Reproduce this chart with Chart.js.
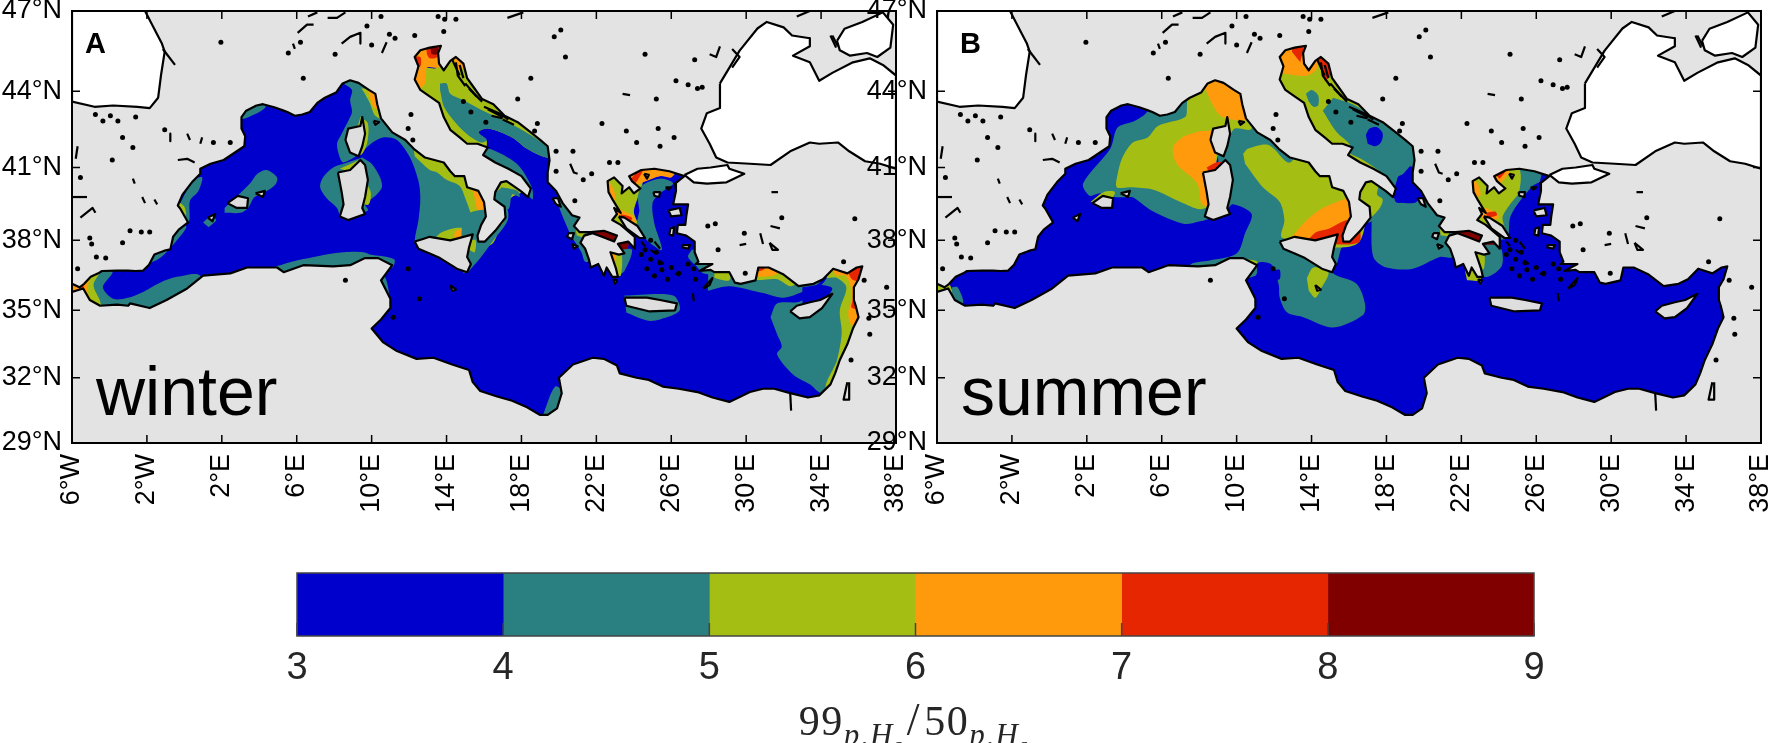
<!DOCTYPE html>
<html>
<head>
<meta charset="utf-8">
<title>99p/50p Hs</title>
<script src="https://cdn.jsdelivr.net/npm/chart.js@4"></script>
<style>
  html, body { margin: 0; background: #fff; overflow: hidden; }
  canvas { position: absolute; }
  #cbarLabel { position: absolute; left: 0; width: 1828px; top: 698px; text-align: center;
    font: 42px "Liberation Serif", serif; color: #262626; line-height: 44px; letter-spacing: 1.5px; }
  #cbarLabel sub { font-size: 31px; font-style: italic; vertical-align: -10px; line-height: 0; }
  #cbarLabel sub sub { font-size: 22px; vertical-align: -7px; }
  #cbarLabel i { font-style: normal; font-size: 46px; padding: 0 3px; }
</style>
</head>
<body>
<canvas id="winterMap" width="907" height="530" style="left:0;top:0"></canvas>
<canvas id="summerMap" width="907" height="530" style="left:865px;top:0"></canvas>
<canvas id="colorbar" width="1772" height="170" style="left:0;top:540px"></canvas>
<div id="cbarLabel">99<sub>p,H<sub>s</sub></sub><i>/</i>50<sub>p,H<sub>s</sub></sub></div>
<script>
// axis ticks and colour bins
const lonTicks = [-6, -2, 2, 6, 10, 14, 18, 22, 26, 30, 34, 38];
const lonLabels = ['6°W', '2°W', '2°E', '6°E', '10°E', '14°E', '18°E', '22°E', '26°E', '30°E', '34°E', '38°E'];
const latTicks = [29, 32, 35, 38, 41, 44, 47];
const latLabels = ['29°N', '32°N', '35°N', '38°N', '41°N', '44°N', '47°N'];
const binEdges = [3, 4, 5, 6, 7, 8, 9];
const binColors = { 3: '#0000CD', 4: '#2A7F80', 5: '#A5BE14', 6: '#FF9A0D', 7: '#E52600', 8: '#800000' };

// Mediterranean coast as [lon, lat], clockwise from Gibraltar
const medCoast = [[-6,36.15],[-5.6,36],[-5.35,36.15],[-5,36.45],[-4.6,36.6],[-4.4,36.7],[-3.6,36.72],[-3,36.72],[-2.6,36.7],[-2.2,36.72],[-1.9,36.95],[-1.6,37.4],[-1,37.58],[-0.75,37.62],[-0.6,38.15],[-0.3,38.45],[0.2,38.75],[-0.2,39.3],[-0.35,39.45],[-0.1,39.9],[0.4,40.4],[0.85,40.75],[0.85,40.95],[1.4,41.15],[2.1,41.3],[2.8,41.65],[3.2,41.85],[3.25,42.25],[3.05,42.55],[3.05,43],[3.3,43.25],[3.85,43.45],[4.2,43.5],[4.8,43.38],[5.3,43.25],[5.5,43.2],[5.9,43.05],[6.3,43.1],[6.7,43.2],[7.1,43.55],[7.5,43.75],[8.1,43.95],[8.45,44.3],[8.85,44.42],[9.3,44.32],[9.85,44.05],[10.2,43.9],[10.3,43.5],[10.5,42.95],[11.1,42.4],[11.8,42.1],[12.25,41.75],[12.85,41.4],[13.6,41.25],[13.85,41.2],[14.2,40.85],[14.45,40.65],[14.95,40.65],[15.1,40.2],[15.7,40.05],[16,39.6],[16.1,39],[15.85,38.65],[15.65,38.2],[15.7,37.95],[16.05,37.95],[16.6,38.4],[17.15,38.95],[17.1,39.4],[16.55,39.7],[16.6,40],[16.9,40.4],[17.2,40.45],[17.95,40.05],[18.35,39.8],[18.5,40.15],[18,40.65],[17.3,40.95],[16.6,41.2],[15.95,41.5],[16.2,41.8],[15.65,41.95],[15.1,41.95],[14.7,42.2],[14.2,42.5],[13.85,43],[13.6,43.55],[13,43.85],[12.6,44.05],[12.3,44.45],[12.5,44.95],[12.3,45.3],[12.6,45.55],[13.1,45.65],[13.7,45.72],[13.55,45.45],[13.6,45.05],[13.85,44.8],[14.2,45.15],[14.5,45.3],[14.9,45.05],[15.1,44.5],[15.4,44.2],[15.9,43.7],[16.5,43.5],[17.1,43.05],[17.8,42.8],[18.5,42.4],[19,42.1],[19.4,41.85],[19.5,41.3],[19.4,40.8],[19.4,40.4],[19.85,40.05],[20.2,39.55],[20.7,39.05],[21.1,38.95],[20.8,38.6],[21.1,38.35],[21.7,38.35],[22.4,38.4],[23.1,38.2],[22.95,37.95],[22.3,38.15],[21.8,38.3],[21.35,38.2],[21.15,37.9],[21.4,37.65],[21.6,37.2],[21.7,36.85],[22.1,37],[22.4,36.5],[22.55,36.85],[22.85,36.45],[23.15,36.45],[23.05,36.8],[22.75,37.5],[23.2,37.4],[23.5,37.45],[23.15,37.85],[23.7,37.95],[24.05,37.65],[24.05,38.15],[23.3,38.65],[22.85,38.85],[23.1,39.1],[22.95,39.35],[23.3,39.15],[22.9,39.65],[22.65,40],[22.6,40.45],[22.95,40.6],[23.4,40.25],[23.35,39.95],[23.75,40.2],[24,39.95],[24.35,40.15],[23.9,40.45],[23.75,40.65],[24.4,40.9],[25.1,40.95],[25.9,40.85],[26.7,40.65],[26.2,40.35],[26.25,40.05],[26.1,39.5],[26.9,39.5],[26.8,39],[26.75,38.65],[26.35,38.65],[26.3,38.3],[26.8,38.2],[27.25,37.95],[27.25,37.5],[27.45,37.1],[27.3,37],[28.2,37],[27.5,36.7],[28.1,36.75],[28.3,36.65],[29.1,36.65],[29.4,36.2],[29.7,36.15],[30.5,36.3],[30.65,36.85],[31.2,36.85],[32,36.55],[32.8,36.05],[33.6,36.15],[34.1,36.35],[34.65,36.8],[35.4,36.6],[35.9,36.85],[36.2,36.9],[36,36.35],[35.75,36],[35.75,35.45],[35.85,35.2],[36,34.7],[35.7,34.2],[35.4,33.5],[35,32.8],[34.75,32.2],[34.5,31.7],[33.9,31.2],[33.3,31.1],[32.35,31.3],[31.5,31.5],[30.9,31.5],[30.2,31.35],[29.1,30.9],[28.2,31.1],[27.4,31.35],[26.4,31.5],[25.55,31.6],[24.8,31.9],[24.15,32],[23.25,32.2],[23.1,32.55],[22.4,32.85],[21.8,32.9],[20.75,32.6],[20,32],[20.15,31.3],[19.9,30.6],[19.4,30.3],[19,30.3],[18.3,30.65],[17.5,30.95],[16.7,31.15],[15.8,31.4],[15.4,31.8],[15.2,32.35],[14.3,32.6],[13.3,32.9],[12.4,32.85],[11.35,33.2],[10.6,33.6],[10,34.2],[10.5,34.6],[11,35.1],[11,35.5],[10.5,36.3],[11.1,36.95],[10.35,37.25],[9.65,37.25],[8.85,36.95],[7.95,36.9],[6.35,36.95],[5.3,36.65],[4.95,36.85],[3.35,36.85],[2.45,36.6],[1,36.5],[0.15,35.95],[-0.95,35.45],[-1.85,35.1],[-2.9,35.3],[-3,35.2],[-3.6,35.25],[-4.5,35.2],[-5.05,35.45],[-5.4,35.95],[-6,35.8]];
const mapCorners = [[-6,29],[38,29],[38,47],[-6,47]];

// basins outside the model domain
const atlantic = [[-6,47],[-2.1,47],[-1.5,46.2],[-1.2,45.8],[-1.05,45.5],[-1.25,44.6],[-1.4,43.75],[-1.85,43.35],[-2.5,43.4],[-3.8,43.45],[-4.8,43.4],[-6,43.6]];
const blackSea = [[28.6,44.3],[29.65,45.54],[30.6,46.36],[31.1,46.6],[32,46.4],[32.45,46.1],[33.4,46],[33.4,45.7],[32.5,45.35],[33.4,45.1],[33.9,44.4],[34.6,44.7],[35.7,45.1],[36.6,45.25],[37.3,45],[38,44.6],[38,40.95],[37.15,41.15],[36.35,41.25],[35.5,41.65],[34.9,42],[33.9,41.95],[33.4,42],[32.35,41.65],[31.3,41.1],[30.2,41.15],[29,41.2],[28.4,41.4],[28.05,41.95],[27.6,42.55],[27.9,43.15],[28.6,43.35]];
const azovSea = [[34.85,45.9],[35.25,46.35],[36.2,46.6],[37.3,46.95],[37.85,46.5],[37.7,45.65],[37,45.3],[36.45,45.45],[35.55,45.35],[35,45.55]];
const marmara = [[26.7,40.7],[27.4,40.95],[28.1,41],[29.0,41.1],[29.1,40.95],[29.9,40.75],[28.95,40.4],[27.9,40.35],[27.2,40.4]];

// islands
const islands = [
  [[8.6,42.1],[8.75,42.55],[9.4,42.65],[9.5,43],[9.65,42.35],[9.5,41.85],[9.3,41.45],[8.85,41.6]],
  [[8.2,40.8],[8.85,40.9],[9.4,41.3],[9.65,41.1],[9.8,40.5],[9.65,39.8],[9.5,39.35],[9.65,39.1],[8.75,38.85],[8.3,39],[8.5,39.5],[8.4,40]],
  [[12.3,37.95],[12.7,38.05],[13.1,38.15],[14.2,38],[15.4,38.25],[15.2,37.7],[15.1,37.3],[15.3,37],[15.1,36.65],[14.55,36.8],[13.65,37.25],[13.1,37.45],[12.5,37.65]],
  [[2.3,39.55],[2.85,39.85],[3.4,39.75],[3.35,39.35],[2.8,39.35]],
  [[3.8,39.95],[4.3,40.05],[4.2,39.8]],
  [[1.25,38.95],[1.65,39.1],[1.5,38.8]],
  [[23.5,35.55],[24.7,35.55],[25.4,35.45],[26.3,35.3],[26.2,35],[24.85,34.95],[23.6,35.2]],
  [[32.35,34.95],[32.7,35.2],[33.4,35.35],[33.95,35.45],[34.6,35.72],[34.05,35.1],[33.4,34.7],[32.85,34.65]],
  [[25.85,39.25],[26.45,39.35],[26.55,39.05],[26,39]],
  [[25.95,38.5],[26.15,38.55],[26.1,38.2],[25.9,38.25]],
  [[25.05,40],[25.4,40],[25.35,39.8],[25.1,39.85]],
  [[24.55,40.75],[24.8,40.7],[24.7,40.55]],
  [[25.7,40.2],[26,40.2],[25.85,40.1]],
  [[26.6,37.8],[27,37.8],[26.9,37.65],[26.6,37.7]],
  [[23.2,39],[23.5,38.95],[24.2,38.6],[24.6,38.1],[24.3,38.1],[23.6,38.5]],
  [[27.7,35.95],[28.2,36.4],[28.05,36.1]],
  [[20.5,38.3],[20.8,38.3],[20.7,38.05],[20.45,38.15]],
  [[20.7,37.85],[21,37.75],[20.8,37.65]],
  [[19.65,39.75],[19.95,39.75],[20.1,39.4],[19.85,39.5]],
  [[22.9,36.35],[23.1,36.3],[23,36.15]],
  [[10.1,42.85],[10.4,42.8],[10.2,42.7]],
  [[14.2,36.1],[14.5,35.9],[14.3,35.85]]
];

// small inland lakes and islets
const coastBits = [
  [[-1.15,45.6],[-0.5,45]],[[6.05,46.2],[6.55,46.5],[6.9,46.5]],[[6.6,46.8],[7.1,46.95]],[[7.65,46.75],[8.15,46.75],[8.6,46.95]],
  [[8.4,45.8],[8.85,46.05],[9.4,46.2],[9.4,45.8]],[[10.55,45.45],[10.8,45.85]],[[5.8,45.8],[5.9,45.6]],[[0.15,42.35],[0.3,42.1]],
  [[0.95,42.2],[0.85,41.95]],[[-0.35,41.3],[0.15,41.35],[0.55,41.2]],[[-0.75,42.35],[-0.75,42.05]],[[-2.75,40.55],[-2.65,40.35]],
  [[-5.95,39.8],[-5.2,39.8]],[[-5.8,41.35],[-5.7,41.85]],[[-2.25,39.8],[-2.1,39.55]],[[-1.6,39.7],[-1.45,39.5]],
  [[-5.55,38.95],[-4.9,39.35],[-4.75,39.15]],[[17.25,46.75],[18.1,46.95]],[[23.4,43.9],[23.8,43.85]],[[20.6,41.15],[20.8,40.8],[21,40.75]],
  [[31.35,40],[31.7,40]],[[28.05,45.4],[28.4,45.3],[28.6,45.7]],[[29.25,45.6],[29.65,45.3],[29.25,44.9]],[[29.65,37.8],[30,37.85]],
  [[31.25,37.9],[31.7,37.6],[31.4,37.6],[31.25,37.9]],[[30.75,38.3],[30.9,37.85]],[[31.3,38.6],[31.8,38.5]],[[35.4,31.8],[35.2,31],[35.5,31],[35.5,31.8]],
  [[32.35,31.3],[32.4,30.5]],[[32.7,46.8],[33.4,47]],[[34.5,46.1],[34.8,45.65]],[[34.6,46.1],[34.9,45.7]],
  [[14.5,45.1],[14.6,44.6],[15,44.2]],[[15,44.3],[15.6,43.8]],[[16,43.4],[16.8,43.15],[17.3,42.9]],[[16.4,43.05],[17,42.95]],
  [[14.3,45.2],[14.7,44.6]],[[27.15,35.75],[27.2,35.4]],[[25.1,37.95],[25.4,37.65]],[[24.4,37.95],[24.6,37.75]],
  [[14.7,45],[14.9,44.5]],[[15.2,44.1],[15.9,43.6]],[[16.2,43.3],[17,43]],[[17,42.9],[17.6,42.7]],
  [[24.9,37.6],[25.15,37.45]],[[25.3,37.15],[25.6,37]],[[26.2,36.6],[26.45,36.5]]
];
const islets = [[1.95,45.85],[-3.3,42.2],[-2.75,41.8],[-3.85,41.3],[-4.75,43.1],[-4.35,42.85],[-3.55,42.85],[-2.6,43],[-3.95,43.05],[-5.55,40.6],[-1.05,42.5],[1.55,42],[2.45,42],[8.05,45.4],[6.35,44.5],[12.1,43.1],[11.95,42.55],[12.2,42.1],[12.3,46.1],[11.25,46],[10.95,46.15],[10,45.75],[9.75,46.45],[10.5,46.8],[5.55,45.45],[6.2,45.85],[13.85,46.25],[13.9,46.7],[13.55,46.8],[14.5,46.7],[20.1,46.3],[19.75,46.05],[20.35,45.3],[18.5,44.5],[17.8,43.7],[18.85,42.75],[18.7,42.45],[22.3,42.75],[23.6,42.45],[24.15,42],[25.4,41.85],[26.15,42.2],[25.3,42.55],[25.2,43.7],[26.25,44.4],[26.9,44.25],[27.4,44.1],[27.65,44.15],[24.6,45.4],[27.25,45.2],[19.85,41.65],[20.75,41.65],[22.7,41.2],[23.15,41.2],[19.85,40.85],[21.3,40.5],[21.75,40.75],[20.85,39.65],[27.95,38.6],[28.35,38.7],[29.9,38.3],[31.9,38.95],[28.5,37.6],[29.95,36.6],[35.8,38.9],[35.2,37.1],[36.3,36.3],[37.5,36],[36.55,34.65],[36.6,33.95],[35.6,32.8],[-5.7,36.8],[-2.9,38.4],[-2.3,38.35],[-1.85,38.35],[-5.05,38.1],[-4.95,37.85],[-3.3,37.9],[-4.7,37.3],[-4.2,37.25],[8.6,36.3],[11.15,34.7],[11.95,36.8],[12.55,35.5],[24.6,37.6],[24.9,37.2],[24.7,36.8],[25.2,37.5],[25.4,37.05],[25.5,36.75],[26,36.85],[26.4,36.6],[26.9,37],[24.4,37.4],[25.1,36.5],[25.8,36.35],[27.2,36.8],[27.3,36.35],[24.9,38],[14.9,43.6],[15.3,43.2],[16.1,42.8]];

// winter ratio areas as [lower bin edge, polygon], painted in this order
const winterAreas = [
  [4, [[-6,37],[-3.85,36.85],[-3.85,36.6],[-4.35,36],[-3.8,35.5],[-3,35.55],[-2.2,35.8],[-1.3,36.2],[-0.4,36.45],[0.85,36.5],[0.85,35],[-6,35]]],
  [5, [[-6,37],[-4.4,36.9],[-4.85,36.1],[-4.5,35.4],[-4.5,35],[-6,35]]],
  [6, [[-6,37],[-4.9,37],[-5.2,35.85],[-4.9,35.2],[-6,35]]],
  [7, [[-5.1,37],[-5.4,35.85],[-5.15,35.2],[-5.5,35],[-5.5,37]]],
  [4, [[-2.3,36.9],[-1.3,37.25],[-0.4,38],[0.1,38.6],[-1,38.6],[-2.3,37.5]]],
  [4, [[2.15,39.35],[3.5,40.35],[3.9,40.75],[4.4,40.9],[4.95,40.6],[4.85,40.3],[4.3,40],[3.75,39.8],[3.4,39.35],[3,39.15],[2.15,39.15]]],
  [4, [[1,38.75],[1.4,39],[1.7,38.85],[1.3,38.55]]],
  [4, [[-0.35,39.35],[0.45,40.45],[0.95,40.6],[0.75,40.05],[0.3,39.65],[0.2,38.75],[-1,39]]],
  [5, [[-0.5,39.7],[0,39.4],[0.05,39],[-0.5,39]]],
  [4, [[3,42.9],[3.45,43],[4.3,43.35],[4.3,43.7],[3,43.7]]],
  [4, [[8.4,44.6],[11,44.6],[11.5,43.5],[13,42.5],[14.5,41.5],[16.5,40.5],[16.5,38],[15.7,37.8],[12.4,37.8],[12.3,38],[12.5,38.85],[12.6,39.75],[12.5,40.45],[12.05,41.4],[11.35,42.1],[10.6,42.2],[10.05,42],[9.25,41.5],[8.5,41.2],[8.3,41.4],[8.15,41.95],[8.4,42.35],[8.75,42.85],[8.95,43.2],[8.85,43.65],[8.95,44.05],[8.5,44.3]]],
  [4, [[8.5,41.15],[7.95,41],[7.4,40.6],[7.25,40.2],[7.6,39.75],[8.15,39.35],[8.4,38.95],[9.8,39.25],[9.65,39.5],[10.2,39.85],[10.55,40.2],[10.45,40.6],[10,41.15],[9.5,41.4]]],
  [5, [[9.45,44.1],[9.8,44.1],[10.8,44.2],[10.8,42.9],[10.2,43.05],[9.9,43.55],[9.6,43.95]]],
  [6, [[9.8,44.3],[9.85,43.9],[10.15,43.35],[10.8,43.35],[10.8,44.3]]],
  [5, [[9.4,43],[9.8,42.75],[9.75,41.95],[9.4,41.5],[9,42]]],
  [5, [[8.3,40.95],[8.9,41.15],[9.4,41.3],[9,40.8]]],
  [5, [[9.6,40.5],[9.95,40],[9.85,39.5],[9.5,39.5]]],
  [5, [[12.3,41.45],[13.1,40.9],[13.5,40.8],[14,40.5],[14.7,40.25],[15,39.75],[15.35,38.95],[15.35,38.6],[14.35,38.5],[13.65,38.3],[13.4,38],[16.5,37.9],[16.5,41],[13,42],[12.2,42]]],
  [6, [[15.2,40.3],[15.45,39.9],[15.65,39],[15.55,38.55],[14.5,38.4],[14.5,38],[16.5,38],[16.5,40.3]]],
  [5, [[12,44.3],[13.3,42],[15.9,41.5],[16.15,42.05],[15.7,42.4],[16.2,42.55],[17.5,42.2],[18.3,41.75],[19.4,41.4],[19.6,41.8],[19,43],[15,45.5],[13.8,45.6],[13.5,44.9],[12.9,44.9],[12,45]]],
  [6, [[12,46],[14,46],[14,45.2],[13.55,44.9],[12.95,44.9],[12.85,44.3],[12.5,44.1],[12,44.1]]],
  [7, [[12.9,45.8],[13.8,45.8],[13.5,45.3],[13.1,45.25],[12.95,45.4]]],
  [8, [[13.1,45.75],[13.5,45.75],[13.5,45.4],[13.2,45.4]]],
  [7, [[12.2,45.3],[12.6,45.3],[12.6,44.95],[12.2,44.95]]],
  [6, [[14.3,45.35],[14.7,45.35],[14.9,44.9],[14.6,44.8]]],
  [4, [[13.65,44.3],[14,44.3],[14.2,43.9],[14.9,43.65],[15.95,43.25],[17.25,42.8],[17.9,42.55],[19.4,41.8],[19.4,41.4],[18.3,41.75],[17.5,42.2],[16.2,42.55],[15.7,42.4],[16.15,42.1],[15.8,42],[14.9,42.45],[13.9,43.35],[13.65,44.05]]],
  [4, [[15.95,41.65],[16.3,41.75],[17.75,41.15],[18.55,40.2],[18.6,39.7],[18.4,39.85],[18.1,40.4],[17,41],[15.9,41.4]]],
  [5, [[16.3,40.6],[17.4,40.6],[18.2,40.1],[17.5,39.8],[17,39.4],[16.4,39.5]]],
  [4, [[16.95,40.2],[17.8,40.05],[17.9,39.8],[17.5,39.9],[17.3,39.3],[16.5,39.3],[16.5,39.9]]],
  [4, [[15.15,36.65],[15.8,37.25],[16.6,38.1],[17.1,38.6],[17.3,38.95],[17.2,39.3],[15,39],[14.9,36.6]]],
  [5, [[15.2,37.6],[15.5,37.5],[15.55,38],[15.2,38]]],
  [5, [[16.2,38.3],[17,38.7],[17.1,39.1],[16.3,38.9]]],
  [4, [[9.9,37.4],[11.2,37.2],[11.1,36.85],[10,36.7]]],
  [4, [[10.45,36.4],[10.7,36.45],[10.9,35.9],[10.9,35.5],[10,35.5],[10,36.4]]],
  [4, [[4.9,36.9],[6,37.15],[8.5,37.5],[9.9,37.4],[10,36.5],[4.9,36.5]]],
  [4, [[19.15,30.3],[19.8,31.6],[20.3,31.3],[20.3,30.3]]],
  [4, [[23.5,35.65],[26.1,35.65],[26.45,35],[25.4,34.6],[24.7,34.55],[23.6,34.9]]],
  [4, [[19.9,39.8],[20,39.4],[20.65,38.2],[21.2,37.5],[21.4,37.1],[21.8,37.2],[21.6,38.2],[21,39],[20.4,39.8]]],
  [5, [[20.85,38.7],[21.4,38.7],[21.3,38.15],[20.95,38.2]]],
  [8, [[21.7,38.6],[23.2,38.6],[23.2,37.9],[21.7,38.1]]],
  [8, [[23,37.9],[23.7,37.95],[23.6,37.55],[23.1,37.5]]],
  [4, [[23.2,37.6],[23.9,37.6],[23.5,36.7],[23.1,36.5]]],
  [5, [[22.7,37.6],[23.3,37.6],[23.3,36.5],[22.9,36.6]]],
  [6, [[22.7,37.6],[23,37.6],[23,36.9],[22.8,36.9]]],
  [5, [[22.4,40.9],[24.5,40.9],[24.45,40.3],[24.2,39.75],[24,39.2],[24.2,38.6],[23.5,38.5],[22.4,39]]],
  [4, [[24.2,39.75],[24.4,40.25],[25.4,40.55],[26.1,40.35],[25.4,39.95],[25,39.55],[25.1,38.7],[25.5,37.6],[24.85,37.9],[24.4,38.3],[24.15,38.55],[24.3,39.25]]],
  [6, [[23.7,40.55],[24.3,41],[26.3,41],[26,40.6],[25.4,40.65],[24.5,40.4],[24,40.2]]],
  [7, [[23.85,40.55],[24.3,40.9],[24.5,40.9],[24.05,40.3]]],
  [6, [[22.4,40.6],[22.75,40.35],[23,39.9],[22.9,39.55],[22.4,39.9]]],
  [6, [[23,39.4],[23.5,39.2],[24,39],[24.1,38.6],[23.7,38.75],[23.2,39]]],
  [7, [[23.3,39.1],[23.9,38.95],[23.8,38.8],[23.35,38.95]]],
  [4, [[27.95,35.85],[29.1,36.05],[30.9,35.75],[32,35.55],[33.4,35.95],[34,36.3],[34,37.3],[28,37.3]]],
  [4, [[27.1,37.6],[26.9,37.3],[27.35,36.9],[27.7,36.6],[28.5,36.6],[28.5,37.7]]],
  [5, [[28.3,36.4],[29.1,36.3],[29.1,36.9],[28.3,36.9]]],
  [5, [[30.4,36.9],[30.4,36.35],[31.65,36.35],[32.4,36.05],[33,36.5],[31,37.2]]],
  [6, [[30.4,37],[30.5,36.5],[31.6,36.55],[32,37]]],
  [7, [[30.4,37],[30.6,36.7],[31,36.8],[31,37]]],
  [4, [[31.3,34.7],[31.65,35.3],[32.9,35.4],[34.3,36.4],[34.3,37.5],[37,37.5],[37,31],[34,31.3],[33.4,31.7],[32.5,32.15],[31.65,33.05],[31.9,33.4],[31.65,33.95]]],
  [3, [[33,36],[33.95,36.1],[34.6,35.95],[33.95,35.35],[33,35.3]]],
  [5, [[34.3,36.4],[34.85,36.4],[35.35,36],[35,35],[35.1,34],[34.85,32.8],[34.3,31.5],[37,31.5],[37,37.5],[34.3,37.5]]],
  [6, [[34.5,37.5],[34.75,36.55],[35.3,36.5],[35.55,36.1],[35.65,35.55],[35.45,34.9],[35.65,34.35],[37,34.35],[37,37.5]]],
  [7, [[35.4,37.5],[35.45,36.65],[35.75,36.3],[37,36.3],[37,37.5]]],
  [7, [[35.75,35.6],[35.65,35.1],[37,35.1],[37,35.6]]]
];

// summer ratio areas, same layout
const summerAreas = [
  [5, [[-6,36.2],[-5.4,36.2],[-5.2,35.7],[-6,35.7]]],
  [4, [[-5.2,36],[-4.9,36],[-4.6,35.3],[-5.2,35.3]]],
  [4, [[5.25,44],[5.25,43.25],[4.55,42.85],[3.65,42.6],[3.25,41.75],[1.8,40.35],[2.15,39.85],[2.7,39.95],[3.5,39.8],[4.4,39.8],[4.55,39.75],[5.55,39.2],[7.15,38.7],[8.05,38.8],[8.6,39],[8.5,41.2],[8.5,44.6]]],
  [4, [[9.5,39.3],[9.8,39.5],[10.8,39.1],[10.45,38.3],[10,37.45],[8.55,37.15],[7.5,36.95],[7.5,36],[11,36.5],[11.15,37.05],[11.9,36.95],[12.25,36.1],[12.3,35.55],[12.7,34.9],[13.55,34.7],[15.15,34.25],[16.75,34.8],[16.85,35.3],[16.4,36.15],[15.15,36.6],[15.35,37],[15.7,37.85],[16.75,38.7],[17.2,38.8],[17.5,39.4],[16.5,42],[12,44.6],[8.9,44.6],[9,41.5],[9.2,40]]],
  [3, [[12,36.75],[12.3,36.75],[12.3,36.35],[12,36.35]]],
  [5, [[13.75,36.4],[14.1,36.85],[14.9,36.65],[14.55,36],[14.2,35.55],[13.85,35.85]]],
  [5, [[10.55,37.2],[11.1,37.1],[10.8,36.8],[10.4,36.8]]],
  [5, [[10.35,41.55],[10.6,41.75],[11.7,41.9],[12.85,41.2],[14,42.5],[16.5,41],[16.5,37.9],[12.45,38.1],[12.55,38.85],[12.3,39.6],[11.4,40.2],[10.45,41.15]]],
  [6, [[13,38.2],[13.75,38.85],[14.6,39.35],[15.7,39.7],[16.5,39.9],[16.5,38.3],[14,37.9],[12.9,37.9]]],
  [7, [[13.9,38.1],[14.25,38.35],[14.95,38.5],[15.9,38.85],[16.5,38.7],[16.5,37.9],[13.9,37.9]]],
  [5, [[7.35,43.45],[7.25,43],[5.8,42.65],[5.25,42.2],[4.45,42],[3.9,41.4],[3.65,40.75],[3.6,40.2],[4.3,40.2],[5.55,40.1],[7,39.6],[8.05,39.3],[8.6,39.5],[9,41.5],[9.6,42.2],[9.9,42.55],[10.8,42.55],[11,44.6],[7.35,44.6]]],
  [6, [[8.3,44.15],[8.7,43.5],[9.25,43],[10.6,42.95],[11,44.6],[8.3,44.6]]],
  [6, [[8.05,42.45],[7.1,42.2],[6.6,41.8],[6.8,41.15],[7.9,40.35],[8.15,39.5],[8.8,39.5],[8.9,41.5],[9.5,41.7],[9,42.5],[8.45,42.45]]],
  [7, [[8.4,41],[8.9,41.2],[9.3,41.2],[9.3,40.9],[8.5,40.85]]],
  [5, [[2.2,39.6],[2.9,40],[3.5,40],[3.2,39.55]]],
  [4, [[17.2,38.85],[17.3,37.3],[18,36.85],[19.4,36.8],[20.85,37.3],[21.5,37.3],[21,38.5],[20.6,39.5],[19.9,39.7],[18.5,39.6],[18.5,40.6],[17,40.7],[16.4,39.3]]],
  [5, [[16.3,40.6],[17.6,40.5],[17.5,39.9],[17.8,39.7],[17.6,39.3],[16.8,38.8],[16.3,39.3]]],
  [5, [[12,44.8],[13,42],[15.9,41.3],[17.5,40.5],[18.6,40],[19.4,41],[19.7,41.8],[18,43.5],[15,45.5],[12,45.5]]],
  [4, [[15.15,43.75],[16.2,43.5],[17.5,42.9],[18.35,42.5],[19.6,41.9],[19.6,41],[18.8,40.5],[18.45,40.2],[17.8,40.75],[16.75,41.3],[15.9,41.65],[16.05,41.9],[15.35,42.4],[14.6,43.25]]],
  [3, [[19.25,41.05],[18.9,40.75],[18.6,40.6],[18.45,39.7],[19.6,39.6],[19.9,40.5],[19.6,41]]],
  [3, [[16.9,42.3],[17.1,42.55],[17.5,42.6],[17.8,42.35],[17.7,42],[17.4,41.85],[17,41.95]]],
  [4, [[13.7,43.9],[14,44.05],[14.35,43.85],[14.35,43.45],[14.1,43.4],[13.85,43.6]]],
  [6, [[12,46],[14,46],[14.3,44.9],[13.8,44.6],[13.2,44.6],[12.3,44.7],[12,44.7]]],
  [7, [[12.95,45.5],[13.1,45.9],[13.6,45.9],[13.4,45.1]]],
  [7, [[14.3,45.2],[14.7,45.3],[15,44.6],[14.7,44.4]]],
  [4, [[20.1,39.2],[20.8,38.2],[21.7,37.3],[22,38],[21,39.4]]],
  [5, [[20.8,38.7],[21.3,38.7],[21.3,38.2],[20.9,38.2]]],
  [6, [[21,38.6],[21.2,38.6],[21.2,38.35],[21,38.35]]],
  [8, [[21.7,38.6],[23.2,38.6],[23.2,37.9],[21.7,38.1]]],
  [8, [[23,37.9],[23.7,37.95],[23.6,37.55],[23.1,37.5]]],
  [4, [[22.6,36.6],[23.4,36.45],[24.15,36.9],[24.15,37.6],[23.8,37.8],[22.9,37.8]]],
  [5, [[22.2,36.7],[23,36.7],[23,36.3],[22.3,36.3]]],
  [5, [[22.8,37.5],[23.2,37.5],[23.2,36.8],[22.9,36.8]]],
  [4, [[24.5,41.2],[26.2,41.2],[26.2,40.45],[25.8,40.25],[25,39.5],[24.6,38.95],[24.45,38.1],[23.8,38.1],[24.2,39],[24.6,41]]],
  [5, [[22.2,41],[25,41],[25.1,40.05],[24.6,39.5],[24.2,38.95],[24.4,38.2],[23.6,38.3],[22.2,39]]],
  [6, [[22.4,40.7],[22.9,40.3],[23,39.85],[22.5,39.85]]],
  [6, [[23.5,40.5],[24.3,41],[24.6,40.85],[24,40.3]]],
  [6, [[22.9,39.4],[23.5,39.3],[24,39],[23.6,38.8],[23.1,38.95]]],
  [7, [[23.9,40.65],[24.2,41],[24.35,40.85],[24.05,40.55]]],
  [7, [[23.3,39.15],[23.8,39.2],[23.9,39.05],[23.4,38.95]]]
];

const LAND = '#E3E3E3';
const ISLAND = '#DEDEDE';
const merc = lat => Math.log(Math.tan(Math.PI / 4 + lat * Math.PI / 360));
const toPoints = poly => poly.map(p => ({ x: p[0], y: merc(p[1]) }));

function shape(poly, color, tension = 0) {
  return { data: toPoints(poly), backgroundColor: color, borderWidth: 0, fill: 'shape', pointRadius: 0, tension };
}
function outline(poly, closed) {
  const pts = closed ? poly.concat([poly[0]]) : poly;
  return { data: toPoints(pts), borderColor: '#000', borderWidth: 2.2, fill: false, pointRadius: 0, tension: 0, borderJoinStyle: 'round' };
}

// ticks inside the frame on all four sides, then the frame itself
const frame = {
  id: 'frame',
  afterDraw(chart) {
    const { ctx, chartArea: a, scales } = chart;
    const opts = chart.options.plugins.frame;
    ctx.save();
    ctx.strokeStyle = '#000';
    ctx.lineWidth = 1.5;
    ctx.beginPath();
    lonTicks.forEach(v => {
      const x = scales.x.getPixelForValue(v);
      ctx.moveTo(x, a.top); ctx.lineTo(x, a.top + 8);
      ctx.moveTo(x, a.bottom); ctx.lineTo(x, a.bottom - 8);
    });
    latTicks.forEach(v => {
      const y = scales.y.getPixelForValue(merc(v));
      ctx.moveTo(a.left, y); ctx.lineTo(a.left + 8, y);
      ctx.moveTo(a.right, y); ctx.lineTo(a.right - 8, y);
    });
    ctx.stroke();
    ctx.lineWidth = 2;
    ctx.strokeRect(a.left, a.top, a.right - a.left, a.bottom - a.top);
    ctx.fillStyle = '#000';
    ctx.textBaseline = 'alphabetic';
    ctx.font = 'bold 29px "Liberation Sans"';
    ctx.fillText(opts.letter, a.left + opts.letterX, a.top + 42);
    ctx.font = '68px "Liberation Sans"';
    ctx.fillText(opts.season, a.left + 24, a.bottom - 28);
    ctx.restore();
  }
};

function renderMap(canvasId, areas, letter, letterX, season) {
  // painted bottom to top; Chart.js paints the first dataset last, so reverse at the end
  const layers = [shape(medCoast, binColors[3])];
  areas.forEach(a => layers.push(shape(a[1], binColors[a[0]], 0.3)));
  layers.push(shape(medCoast.concat(mapCorners), LAND));
  [atlantic, blackSea, azovSea, marmara].forEach(b => layers.push(shape(b, '#fff')));
  islands.forEach(i => layers.push(shape(i, ISLAND)));
  layers.push(outline(medCoast, false));
  [atlantic, blackSea, azovSea, marmara].concat(islands).forEach(b => layers.push(outline(b, true)));
  coastBits.forEach(b => layers.push(outline(b, false)));
  layers.push({ data: toPoints(islets), showLine: false, pointRadius: 2.5, pointBackgroundColor: '#000', pointBorderWidth: 0 });

  return new Chart(document.getElementById(canvasId), {
    type: 'line',
    data: { datasets: layers.reverse() },
    options: {
      responsive: false,
      animation: false,
      devicePixelRatio: 1,
      layout: { autoPadding: false, padding: { top: 11, right: 11 } },
      events: [],
      scales: {
        x: {
          type: 'linear', min: -6, max: 38,
          afterFit(s) { s.height = 87; s.paddingLeft = 0; s.paddingRight = 0; },
          afterBuildTicks(s) { s.ticks = lonTicks.map(v => ({ value: v })); },
          grid: { display: false, drawTicks: false },
          border: { display: false },
          ticks: {
            autoSkip: false, minRotation: 90, maxRotation: 90, padding: 11, color: '#000',
            font: { size: 27 },
            callback: (v, i) => lonLabels[i]
          }
        },
        y: {
          type: 'linear', min: merc(29), max: merc(47),
          afterFit(s) { s.width = 72; s.paddingTop = 0; s.paddingBottom = 0; },
          afterBuildTicks(s) { s.ticks = latTicks.map(v => ({ value: merc(v) })); },
          grid: { display: false, drawTicks: false },
          border: { display: false },
          ticks: {
            autoSkip: false, padding: 10, color: '#000',
            font: { size: 27 },
            callback: (v, i) => latLabels[i]
          }
        }
      },
      plugins: {
        legend: { display: false },
        tooltip: { enabled: false },
        frame: { letter, letterX, season }
      }
    },
    plugins: [frame]
  });
}

function renderColorbar() {
  const bins = binEdges.slice(0, -1);
  const cbarFrame = {
    id: 'cbarFrame',
    afterDraw(chart) {
      const { ctx, chartArea: a, scales } = chart;
      ctx.save();
      ctx.strokeStyle = '#444';
      ctx.lineWidth = 1.5;
      ctx.beginPath();
      binEdges.forEach(v => {
        const x = scales.x.getPixelForValue(v);
        ctx.moveTo(x, a.bottom); ctx.lineTo(x, a.bottom - 13);
      });
      ctx.stroke();
      ctx.strokeRect(a.left, a.top, a.right - a.left, a.bottom - a.top);
      ctx.restore();
    }
  };
  return new Chart(document.getElementById('colorbar'), {
    type: 'bar',
    data: {
      labels: ['ratio'],
      datasets: bins.map((b, i) => ({
        data: [[b, binEdges[i + 1]]],
        backgroundColor: binColors[b],
        borderWidth: 0,
        barPercentage: 1,
        categoryPercentage: 1,
        grouped: false
      }))
    },
    options: {
      indexAxis: 'y',
      responsive: false,
      animation: false,
      devicePixelRatio: 1,
      events: [],
      layout: { autoPadding: false, padding: { left: 297, right: 238, top: 33 } },
      scales: {
        x: {
          type: 'linear', min: 3, max: 9,
          afterFit(s) { s.height = 74; s.paddingLeft = 0; s.paddingRight = 0; },
          grid: { display: false, drawTicks: false },
          border: { display: false },
          ticks: { stepSize: 1, padding: 10, color: '#262626', font: { size: 38 }, maxRotation: 0 }
        },
        y: { display: false }
      },
      plugins: { legend: { display: false }, tooltip: { enabled: false } }
    },
    plugins: [cbarFrame]
  });
}

Chart.defaults.font.family = '"Liberation Sans", Arial, sans-serif';
renderMap('winterMap', winterAreas, 'A', 13, 'winter');
renderMap('summerMap', summerAreas, 'B', 23, 'summer');
renderColorbar();
</script>
</body>
</html>
